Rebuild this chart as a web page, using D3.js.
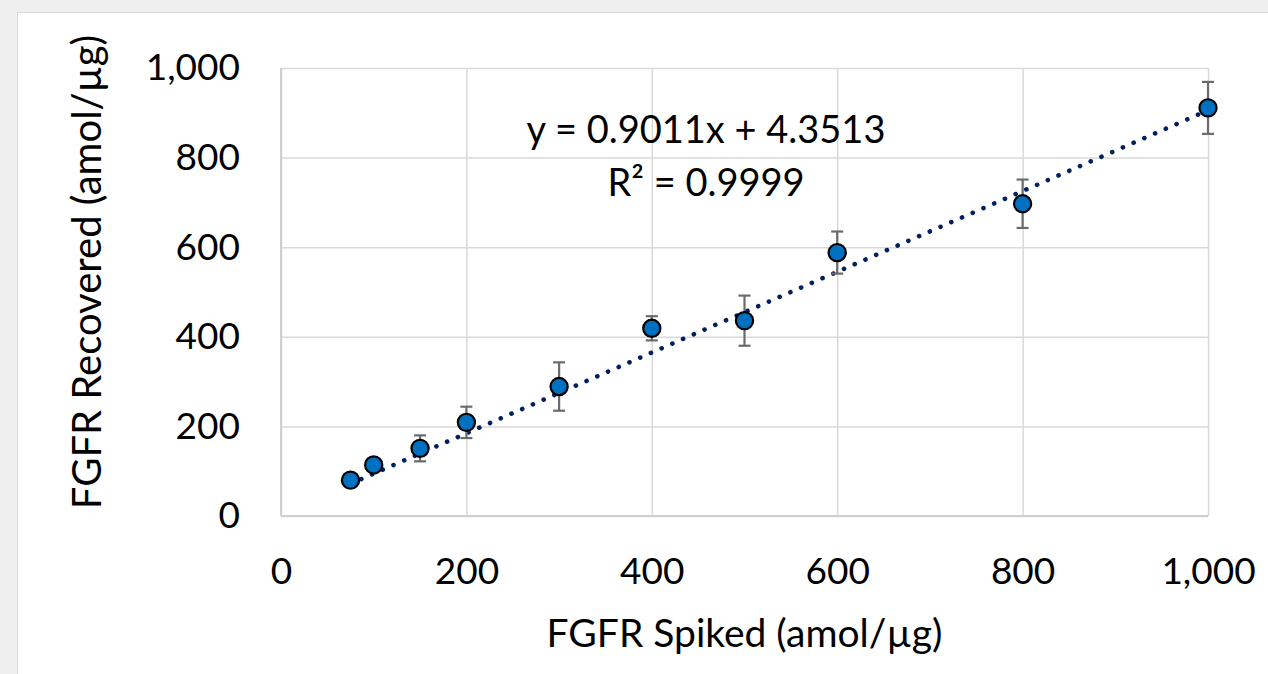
<!DOCTYPE html>
<html>
<head>
<meta charset="utf-8">
<script src="https://cdn.jsdelivr.net/npm/d3@7"></script>
<style>
  body { margin: 0; background: #efefef; }
  svg { display: block; }
  text { font-family: Lato, "Open Sans", sans-serif; fill: #000; }
</style>
</head>
<body>
<div id="chart"></div>
<script>
const spiked = [75, 100, 150, 200, 300, 400, 500, 600, 800, 1000];
const recovered = [80, 114, 151, 209, 289, 419, 436, 588, 697, 911];
const errors = [8, 10, 29, 35, 54, 27, 56, 47, 54, 58];
const xTicks = [0, 200, 400, 600, 800, 1000];
const yTicks = [0, 200, 400, 600, 800, 1000];
const slope = 0.9011, intercept = 4.3513;
const eqLabel = "y = 0.9011x + 4.3513";
const r2Label = "R² = 0.9999";

const W = 1268, H = 674;
const margin = { top: 68, right: 60, bottom: 158, left: 281 },
      width = 1208 - margin.left,
      height = 516 - margin.top;

const svg = d3.select("#chart").append("svg")
    .attr("width", W)
    .attr("height", H);

// white chart panel
svg.append("rect")
    .attr("x", 17.5).attr("y", 12.5)
    .attr("width", W).attr("height", H)
    .attr("fill", "#fff")
    .attr("stroke", "#d9d9d9");

const g = svg.append("g")
    .attr("transform", `translate(${margin.left},${margin.top})`);

const x = d3.scaleLinear().domain([0, 1000]).range([0, width]);
const y = d3.scaleLinear().domain([0, 1000]).range([height, 0]);

const fmt = d3.format(",");

// gridlines
g.append("g")
    .call(d3.axisLeft(y).tickValues(yTicks).tickSize(-width).tickFormat(""))
    .call(s => s.select(".domain").remove())
    .call(s => s.selectAll("line").attr("stroke", "#d9d9d9").attr("stroke-width", 1.5));

g.append("g")
    .attr("transform", `translate(0,${height})`)
    .call(d3.axisBottom(x).tickValues(xTicks).tickSize(-height).tickFormat(""))
    .call(s => s.select(".domain").remove())
    .call(s => s.selectAll("line").attr("stroke", "#d9d9d9").attr("stroke-width", 1.5));

// axis lines
g.append("line")
    .attr("x1", 0).attr("x2", 0).attr("y1", 0).attr("y2", height)
    .attr("stroke", "#cfcfcf").attr("stroke-width", 2);
g.append("line")
    .attr("x1", 0).attr("x2", width).attr("y1", height).attr("y2", height)
    .attr("stroke", "#cfcfcf").attr("stroke-width", 2);

// tick labels
const yAxis = g.append("g")
    .call(d3.axisLeft(y).tickValues(yTicks).tickSize(0).tickPadding(41).tickFormat(fmt));
yAxis.select(".domain").remove();
yAxis.selectAll("text").style("font-size", "37px").attr("font-family", "Lato");

const xAxis = g.append("g")
    .attr("transform", `translate(0,${height})`)
    .call(d3.axisBottom(x).tickValues(xTicks).tickSize(0).tickPadding(42).tickFormat(fmt));
xAxis.select(".domain").remove();
xAxis.selectAll("text").style("font-size", "37px").attr("font-family", "Lato");

// trendline
const xs = d3.extent(spiked);
g.append("line")
    .attr("x1", x(xs[0])).attr("y1", y(slope * xs[0] + intercept))
    .attr("x2", x(xs[1])).attr("y2", y(slope * xs[1] + intercept))
    .attr("stroke", "#002060")
    .attr("stroke-width", 4.6)
    .attr("stroke-linecap", "round")
    .attr("stroke-dasharray", "0.1 11.6");

const pts = spiked.map((v, i) => ({ x: v, y: recovered[i], e: errors[i] }));

// error bars
const eb = g.selectAll(".err").data(pts).enter().append("g")
    .attr("class", "err")
    .attr("stroke", "#6b6b6b")
    .attr("stroke-width", 2.2);
eb.append("line")
    .attr("x1", d => x(d.x)).attr("x2", d => x(d.x))
    .attr("y1", d => y(d.y - d.e)).attr("y2", d => y(d.y + d.e));
eb.append("line")
    .attr("x1", d => x(d.x) - 6).attr("x2", d => x(d.x) + 6)
    .attr("y1", d => y(d.y + d.e)).attr("y2", d => y(d.y + d.e));
eb.append("line")
    .attr("x1", d => x(d.x) - 6).attr("x2", d => x(d.x) + 6)
    .attr("y1", d => y(d.y - d.e)).attr("y2", d => y(d.y - d.e));

// markers
g.selectAll(".pt").data(pts).enter().append("circle")
    .attr("class", "pt")
    .attr("cx", d => x(d.x))
    .attr("cy", d => y(d.y))
    .attr("r", 8.6)
    .attr("fill", "#0070c0")
    .attr("stroke", "#000")
    .attr("stroke-width", 2.2);

// trendline label
g.append("text")
    .attr("x", 425).attr("y", 75)
    .attr("text-anchor", "middle")
    .style("font-size", "38px")
    .text(eqLabel);
g.append("text")
    .attr("x", 425).attr("y", 128)
    .attr("text-anchor", "middle")
    .style("font-size", "38px")
    .text(r2Label);

// axis titles
svg.append("text")
    .attr("x", margin.left + width / 2).attr("y", 647)
    .attr("text-anchor", "middle")
    .style("font-size", "39px")
    .text("FGFR Spiked (amol/µg)");

svg.append("text")
    .attr("transform", "translate(101,272) rotate(-90)")
    .attr("text-anchor", "middle")
    .style("font-size", "40px")
    .text("FGFR Recovered (amol/µg)");
</script>
</body>
</html>
